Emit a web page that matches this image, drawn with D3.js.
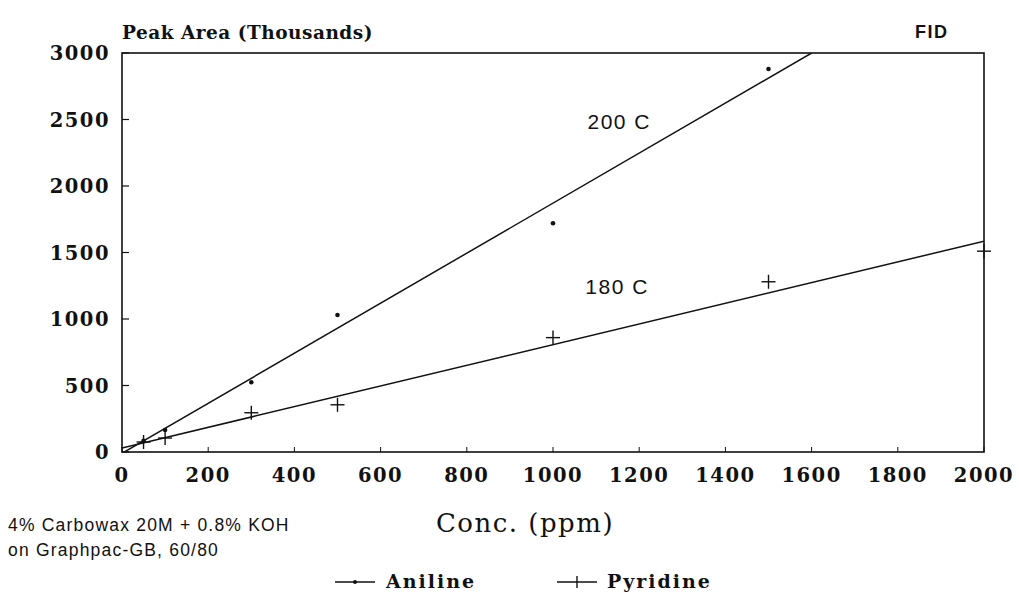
<!DOCTYPE html>
<html>
<head>
<meta charset="utf-8">
<script src="https://cdn.jsdelivr.net/npm/d3@7"></script>
<style>
  html, body { margin: 0; padding: 0; background: #fff; }
</style>
</head>
<body>
<div id="chart"></div>
<script>
  var SERIF = "'DejaVu Serif', 'Liberation Serif', serif";
  var SANS = "'Liberation Sans', 'DejaVu Sans', sans-serif";

  // data
  var anilineConc = [50, 100, 300, 500, 1000, 1500];
  var anilineArea = [85, 165, 525, 1030, 1720, 2880];
  var pyridineConc = [50, 100, 300, 500, 1000, 1500, 2000];
  var pyridineArea = [75, 105, 295, 355, 860, 1280, 1510];
  // fitted lines [x, y] end points
  var anilineFit = [[0, -10], [1600, 3000]];
  var pyridineFit = [[0, 30], [2000, 1585]];
  var xTicks = [0, 200, 400, 600, 800, 1000, 1200, 1400, 1600, 1800, 2000];
  var yTicks = [0, 500, 1000, 1500, 2000, 2500, 3000];

  var W = 1019, H = 605;
  var M = { left: 122, right: 35, top: 53, bottom: 153 };
  var width = W - M.left - M.right;
  var height = H - M.top - M.bottom;

  var svg = d3.select("#chart").append("svg")
    .attr("width", W).attr("height", H)
    .style("display", "block").style("background", "#fff");

  var x = d3.scaleLinear().domain([0, 2000]).range([0, width]);
  var y = d3.scaleLinear().domain([0, 3000]).range([height, 0]);

  svg.append("defs").append("clipPath").attr("id", "clip")
    .append("rect").attr("width", width).attr("height", height);

  var g = svg.append("g").attr("transform", "translate(" + M.left + "," + M.top + ")");

  // frame
  g.append("rect").attr("width", width).attr("height", height)
    .attr("fill", "none").attr("stroke", "#111").attr("stroke-width", 1.6);

  // y ticks (inward) + labels
  yTicks.forEach(function (v) {
    g.append("line").attr("x1", 0).attr("x2", 7)
      .attr("y1", y(v)).attr("y2", y(v)).attr("stroke", "#111").attr("stroke-width", 1.2);
    g.append("text").attr("x", -12).attr("y", y(v) + 7)
      .attr("text-anchor", "end").attr("fill", "#111")
      .attr("font-family", SERIF).attr("font-weight", "bold")
      .attr("font-size", "19.5px").attr("letter-spacing", "1.5px").text(v);
  });

  // x ticks + labels
  xTicks.forEach(function (v) {
    g.append("line").attr("x1", x(v)).attr("x2", x(v))
      .attr("y1", height).attr("y2", height - 5).attr("stroke", "#111").attr("stroke-width", 1);
    g.append("text").attr("x", x(v)).attr("y", height + 30)
      .attr("text-anchor", "middle").attr("fill", "#111")
      .attr("font-family", SERIF).attr("font-weight", "bold")
      .attr("font-size", "19.5px").attr("letter-spacing", "1.5px").text(v);
  });

  var plot = g.append("g").attr("clip-path", "url(#clip)");
  var line = d3.line().x(function (d) { return x(d[0]); }).y(function (d) { return y(d[1]); });

  plot.append("path").datum(anilineFit).attr("d", line)
    .attr("fill", "none").attr("stroke", "#111").attr("stroke-width", 1.5);
  plot.append("path").datum(pyridineFit).attr("d", line)
    .attr("fill", "none").attr("stroke", "#111").attr("stroke-width", 1.5);

  // aniline points: small dots
  anilineConc.forEach(function (c, i) {
    g.append("circle").attr("cx", x(c)).attr("cy", y(anilineArea[i]))
      .attr("r", 2.3).attr("fill", "#111");
  });

  // pyridine points: plus marks
  pyridineConc.forEach(function (c, i) {
    var px = x(c), py = y(pyridineArea[i]);
    g.append("line").attr("x1", px - 7).attr("x2", px + 7).attr("y1", py).attr("y2", py)
      .attr("stroke", "#111").attr("stroke-width", 1.4);
    g.append("line").attr("x1", px).attr("x2", px).attr("y1", py - 7).attr("y2", py + 7)
      .attr("stroke", "#111").attr("stroke-width", 1.4);
  });

  // line labels
  g.append("text").attr("x", x(1080)).attr("y", y(2430))
    .attr("fill", "#111").attr("font-family", SANS).attr("font-size", "21px")
    .attr("letter-spacing", "1.5px").text("200 C");
  g.append("text").attr("x", x(1075)).attr("y", y(1190))
    .attr("fill", "#111").attr("font-family", SANS).attr("font-size", "21px")
    .attr("letter-spacing", "1.5px").text("180 C");

  // titles
  svg.append("text").attr("x", M.left).attr("y", 39)
    .attr("fill", "#111").attr("font-family", SERIF).attr("font-weight", "bold")
    .attr("font-size", "18.5px").attr("letter-spacing", "0.5px").text("Peak Area (Thousands)");
  svg.append("text").attr("x", 915).attr("y", 38)
    .attr("fill", "#111").attr("font-family", SANS).attr("font-weight", "bold")
    .attr("font-size", "18px").attr("letter-spacing", "1.5px").text("FID");
  svg.append("text").attr("x", 525).attr("y", 532)
    .attr("text-anchor", "middle").attr("fill", "#111")
    .attr("font-family", SERIF).attr("font-size", "26px").attr("letter-spacing", "1.5px")
    .text("Conc. (ppm)");

  // column note
  svg.append("text").attr("x", 8).attr("y", 531)
    .attr("fill", "#111").attr("font-family", SANS).attr("font-size", "17.5px")
    .attr("letter-spacing", "1.2px").text("4% Carbowax 20M + 0.8% KOH");
  svg.append("text").attr("x", 8).attr("y", 556)
    .attr("fill", "#111").attr("font-family", SANS).attr("font-size", "17.5px")
    .attr("letter-spacing", "1.2px").text("on Graphpac-GB, 60/80");

  // legend
  var leg = svg.append("g").attr("transform", "translate(0,588)");
  leg.append("line").attr("x1", 335).attr("x2", 375).attr("y1", -6).attr("y2", -6)
    .attr("stroke", "#111").attr("stroke-width", 1.4);
  leg.append("circle").attr("cx", 355).attr("cy", -6).attr("r", 2).attr("fill", "#111");
  leg.append("text").attr("x", 386).attr("y", 0)
    .attr("fill", "#111").attr("font-family", SERIF).attr("font-weight", "bold")
    .attr("font-size", "19px").attr("letter-spacing", "2px").text("Aniline");
  leg.append("line").attr("x1", 557).attr("x2", 597).attr("y1", -6).attr("y2", -6)
    .attr("stroke", "#111").attr("stroke-width", 1.4);
  leg.append("line").attr("x1", 577).attr("x2", 577).attr("y1", -12).attr("y2", 0)
    .attr("stroke", "#111").attr("stroke-width", 1.4);
  leg.append("text").attr("x", 607).attr("y", 0)
    .attr("fill", "#111").attr("font-family", SERIF).attr("font-weight", "bold")
    .attr("font-size", "19px").attr("letter-spacing", "2px").text("Pyridine");
</script>
</body>
</html>
